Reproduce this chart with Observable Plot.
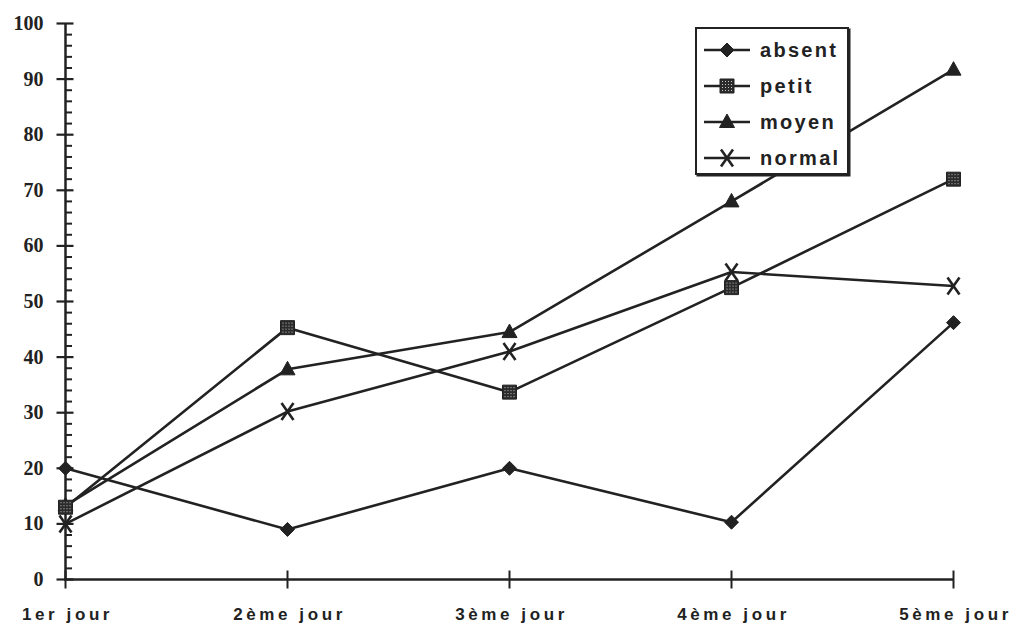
<!DOCTYPE html>
<html>
<head>
<meta charset="utf-8">
<script src="https://cdn.jsdelivr.net/npm/d3@7"></script>
<script src="https://cdn.jsdelivr.net/npm/@observablehq/plot@0.6"></script>
<style>
  html, body { margin: 0; padding: 0; background: #fff; }
  #wrap { position: relative; width: 1020px; height: 632px; }
  #legend {
    position: absolute; left: 695px; top: 27px; width: 150px; height: 144px;
    border: 2.5px solid #222; background: #fff; box-shadow: 1.5px 1.5px 0 #222;
    font-family: "Liberation Sans", Arial, sans-serif; font-weight: bold;
    font-size: 20px; letter-spacing: 2.3px; color: #222;
  }
  .row { position: absolute; left: 6px; height: 22px; display: flex; align-items: center; }
  .row svg { display: block; }
  .row span { margin-left: 9px; line-height: 22px; }
</style>
</head>
<body>
<div id="wrap">
  <div id="chart"></div>
  <div id="legend"></div>
</div>
<script>
// Days on the horizontal axis
const days = ["1er jour", "2ème jour", "3ème jour", "4ème jour", "5ème jour"];

// Series values, one per day
const absent = [20, 9, 20, 10.3, 46.2];
const petit  = [13, 45.3, 33.7, 52.5, 72];
const moyen  = [13.3, 37.8, 44.5, 68, 91.7];
const normal = [10, 30.2, 41, 55.3, 52.8];

const seriesNames = ["absent", "petit", "moyen", "normal"];
const seriesValues = {absent, petit, moyen, normal};

// Vertical axis ticks
const yMajor = d3.range(0, 101, 10);
const yMinor = d3.range(0, 101, 2).filter(v => v % 10 !== 0);

const ink = "#222";

// Long-format table for the line marks
const rows = seriesNames.flatMap(s => days.map((d, i) => ({series: s, day: d, value: seriesValues[s][i]})));

// Marker shapes (fixed pixel sizes)
const diamond = {draw(c) { c.moveTo(0, -7); c.lineTo(7, 0); c.lineTo(0, 7); c.lineTo(-7, 0); c.closePath(); }};
const square = {draw(c) { c.rect(-7, -7, 14, 14); }};
const triangle = {draw(c) { c.moveTo(0, -8); c.lineTo(7.5, 5.5); c.lineTo(-7.5, 5.5); c.closePath(); }};
const cross = {draw(c) { c.moveTo(-6, -8.5); c.lineTo(6, 8.5); c.moveTo(6, -8.5); c.lineTo(-6, 8.5); }};
const majorTick = {draw(c) { c.moveTo(-9, 0); c.lineTo(8, 0); }};
const minorTick = {draw(c) { c.moveTo(0, 0); c.lineTo(6.5, 0); }};
const xTick = {draw(c) { c.moveTo(0, -9); c.lineTo(0, 9); }};

const markerStyle = {
  absent: {symbol: diamond, fill: ink, stroke: ink, strokeWidth: 1},
  petit:  {symbol: square, fill: "url(#dotfill)", stroke: ink, strokeWidth: 1},
  moyen:  {symbol: triangle, fill: ink, stroke: ink, strokeWidth: 1},
  normal: {symbol: cross, fill: "none", stroke: ink, strokeWidth: 2.6}
};

// Drawing order of markers (later on top)
const markerOrder = ["moyen", "absent", "normal", "petit"];

const chart = Plot.plot({
  width: 1020,
  height: 632,
  marginLeft: 64,
  marginRight: 67,
  marginTop: 23,
  marginBottom: 53,
  x: {type: "point", domain: days, padding: 0, label: null},
  y: {domain: [0, 100], label: null},
  marks: [
    Plot.ruleY([0], {stroke: ink, strokeWidth: 2.5}),
    Plot.ruleX([days[0]], {y1: 0, y2: 100, stroke: ink, strokeWidth: 2.5}),
    Plot.dot(yMajor, {x: () => days[0], y: d => d, symbol: majorTick, r: 3, stroke: ink, strokeWidth: 2.2, fill: "none"}),
    Plot.dot(yMinor, {x: () => days[0], y: d => d, symbol: minorTick, r: 3, stroke: ink, strokeWidth: 2, fill: "none"}),
    Plot.dot(days, {x: d => d, y: () => 0, symbol: xTick, r: 3, stroke: ink, strokeWidth: 2, fill: "none"}),
    Plot.axisY({
      ticks: yMajor, tickSize: 0, tickPadding: 21, label: null,
      fontFamily: "Liberation Serif", fontSize: 20, fontWeight: "bold", fill: ink
    }),
    Plot.axisX({
      tickSize: 0, tickPadding: 28, label: null,
      fontFamily: "Liberation Sans", fontSize: 17, fontWeight: "bold", fill: ink, dx: 2
    }),
    Plot.line(rows, {x: "day", y: "value", z: "series", stroke: ink, strokeWidth: 2.6}),
    ...markerOrder.map(s => Plot.dot(days.map((d, i) => ({day: d, value: seriesValues[s][i]})), {
      x: "day", y: "value", r: 3, ...markerStyle[s]
    }))
  ]
});

// Dotted fill used by the "petit" squares
function addPattern(svgNode) {
  const defs = d3.select(svgNode).insert("defs", ":first-child");
  const p = defs.append("pattern").attr("id", "dotfill")
    .attr("width", 3).attr("height", 3).attr("patternUnits", "userSpaceOnUse");
  p.append("rect").attr("width", 3).attr("height", 3).attr("fill", "#2b2b2b");
  p.append("rect").attr("x", 1).attr("y", 1).attr("width", 1).attr("height", 1).attr("fill", "#c8c8c8");
}
addPattern(chart);
d3.select(chart).selectAll("[aria-label='x-axis tick label'] text").style("letter-spacing", "3.6px");
document.getElementById("chart").appendChild(chart);

// Legend: line sample with marker, then the series name
const legend = d3.select("#legend");
const legendTops = [10, 46, 82, 118];
seriesNames.forEach((s, i) => {
  const row = legend.append("div").attr("class", "row").style("top", legendTops[i] + "px");
  const sw = row.append("svg").attr("width", 48).attr("height", 20);
  if (i === 0) addPattern(sw.node());
  sw.append("line").attr("x1", 1).attr("x2", 47).attr("y1", 10).attr("y2", 10)
    .attr("stroke", ink).attr("stroke-width", 2.4);
  const st = markerStyle[s];
  const path = d3.path();
  st.symbol.draw(path);
  sw.append("path").attr("d", path.toString()).attr("transform", "translate(24,10)")
    .attr("fill", st.fill).attr("stroke", st.stroke).attr("stroke-width", st.strokeWidth);
  row.append("span").text(s);
});
</script>
</body>
</html>
